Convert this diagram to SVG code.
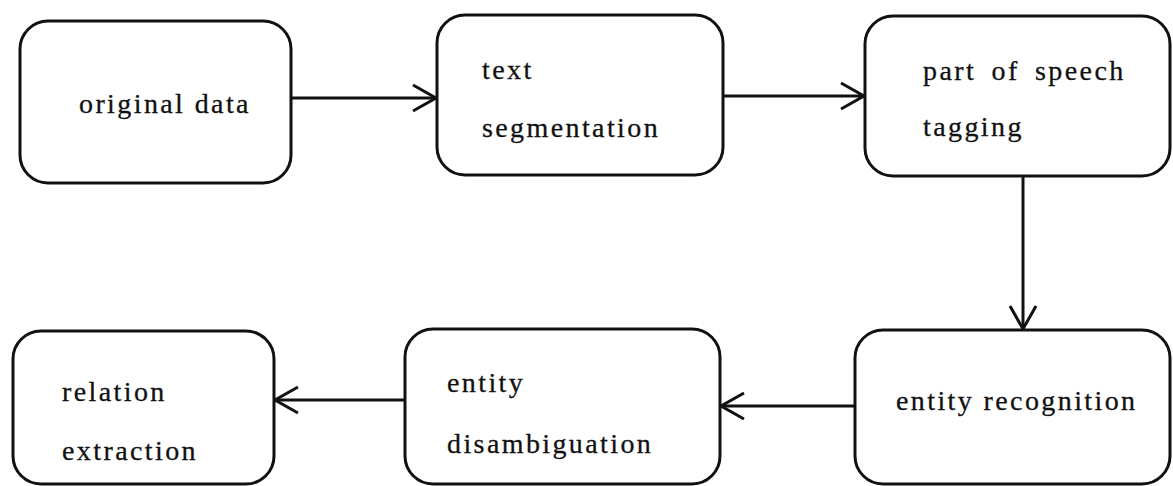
<svg xmlns="http://www.w3.org/2000/svg" width="1173" height="486" viewBox="0 0 1173 486">
  <style>
    .box { fill: #fff; stroke: #111; stroke-width: 3; }
    .lbl { font-family: 'Liberation Serif', 'Times New Roman', Times, 'DejaVu Serif', serif; font-size: 28px; fill: #111; stroke: #111; stroke-width: 0.3px; letter-spacing: 2.4px; }
    .edge { fill: none; stroke: #111; stroke-width: 3; marker-end: url(#open); }
  </style>
  <defs>
    <marker id="open" markerUnits="userSpaceOnUse" viewBox="-26 -16 30 32" refX="0" refY="0" markerWidth="30" markerHeight="32" orient="auto">
      <path d="M -23 -13 L 0 0 L -23 13" fill="none" stroke="#111" stroke-width="3" stroke-linejoin="miter"/>
    </marker>
  </defs>
  <rect width="1173" height="486" fill="#fff"/>

  <g id="connectors">
    <line class="edge" x1="291" y1="98" x2="436" y2="98"/>
    <line class="edge" x1="723" y1="96" x2="864" y2="96"/>
    <line class="edge" x1="1023" y1="176" x2="1023" y2="329"/>
    <line class="edge" x1="855" y1="406" x2="721" y2="406"/>
    <line class="edge" x1="405" y1="400" x2="275" y2="400"/>
  </g>

  <g id="original-data">
    <rect class="box" x="20" y="21" width="271" height="162" rx="28"/>
    <text class="lbl" x="79" y="113">original data</text>
  </g>
  <g id="text-segmentation">
    <rect class="box" x="437" y="15" width="286" height="160" rx="28"/>
    <text class="lbl" x="482" y="79">text</text>
    <text class="lbl" x="482" y="137">segmentation</text>
  </g>
  <g id="pos-tagging">
    <rect class="box" x="865" y="16" width="305" height="160" rx="28"/>
    <text class="lbl" x="923" y="80" word-spacing="6">part of speech</text>
    <text class="lbl" x="923" y="136">tagging</text>
  </g>
  <g id="entity-recognition">
    <rect class="box" x="855" y="330" width="315" height="154" rx="28"/>
    <text class="lbl" x="896" y="410">entity recognition</text>
  </g>
  <g id="entity-disambiguation">
    <rect class="box" x="405" y="329" width="315" height="155" rx="28"/>
    <text class="lbl" x="447" y="392">entity</text>
    <text class="lbl" x="447" y="453">disambiguation</text>
  </g>
  <g id="relation-extraction">
    <rect class="box" x="13" y="331" width="261" height="153" rx="28"/>
    <text class="lbl" x="62" y="401">relation</text>
    <text class="lbl" x="62" y="460">extraction</text>
  </g>
</svg>
